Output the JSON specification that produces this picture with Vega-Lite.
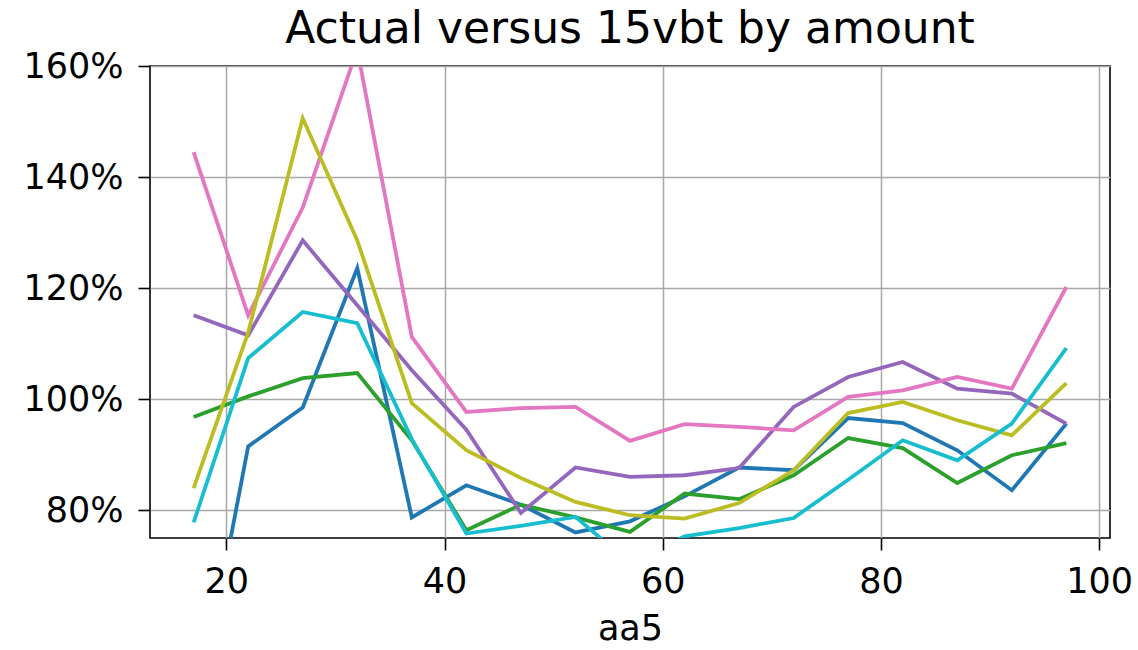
{
  "$schema": "https://vega.github.io/schema/vega-lite/v6.json",
  "width": 960,
  "height": 472,
  "autosize": {"type": "none"},
  "padding": {"left": 150, "top": 66, "right": 28, "bottom": 112},
  "background": "white",
  "title": {
    "text": "Actual versus 15vbt by amount",
    "font": "DejaVu Sans",
    "fontSize": 44,
    "fontWeight": "normal",
    "color": "black",
    "anchor": "middle",
    "frame": "group",
    "baseline": "alphabetic",
    "offset": -38
  },
  "config": {
    "font": "DejaVu Sans",
    "view": {"stroke": "black", "strokeWidth": 1.6},
    "axis": {
      "grid": true,
      "gridColor": "#a8a8a8",
      "gridWidth": 1.5,
      "domain": false,
      "tickColor": "black",
      "tickSize": 12,
      "tickWidth": 1.6,
      "labelFont": "DejaVu Sans",
      "labelFontSize": 35,
      "labelColor": "black",
      "titleFont": "DejaVu Sans",
      "titleFontSize": 35,
      "titleFontWeight": "normal",
      "titleColor": "black"
    }
  },
  "data": {
    "values": [
      {"aa5": 17, "grp": "g0", "ratio": 0.40},
      {"aa5": 22, "grp": "g0", "ratio": 0.915},
      {"aa5": 27, "grp": "g0", "ratio": 0.985},
      {"aa5": 32, "grp": "g0", "ratio": 1.236},
      {"aa5": 37, "grp": "g0", "ratio": 0.787},
      {"aa5": 42, "grp": "g0", "ratio": 0.845},
      {"aa5": 47, "grp": "g0", "ratio": 0.81},
      {"aa5": 52, "grp": "g0", "ratio": 0.76},
      {"aa5": 57, "grp": "g0", "ratio": 0.78},
      {"aa5": 62, "grp": "g0", "ratio": 0.825},
      {"aa5": 67, "grp": "g0", "ratio": 0.877},
      {"aa5": 72, "grp": "g0", "ratio": 0.872},
      {"aa5": 77, "grp": "g0", "ratio": 0.966},
      {"aa5": 82, "grp": "g0", "ratio": 0.957},
      {"aa5": 87, "grp": "g0", "ratio": 0.908},
      {"aa5": 92, "grp": "g0", "ratio": 0.836},
      {"aa5": 97, "grp": "g0", "ratio": 0.956},

      {"aa5": 17, "grp": "g2", "ratio": 0.968},
      {"aa5": 22, "grp": "g2", "ratio": 1.005},
      {"aa5": 27, "grp": "g2", "ratio": 1.038},
      {"aa5": 32, "grp": "g2", "ratio": 1.047},
      {"aa5": 37, "grp": "g2", "ratio": 0.926},
      {"aa5": 42, "grp": "g2", "ratio": 0.764},
      {"aa5": 47, "grp": "g2", "ratio": 0.81},
      {"aa5": 52, "grp": "g2", "ratio": 0.787},
      {"aa5": 57, "grp": "g2", "ratio": 0.761},
      {"aa5": 62, "grp": "g2", "ratio": 0.83},
      {"aa5": 67, "grp": "g2", "ratio": 0.82},
      {"aa5": 72, "grp": "g2", "ratio": 0.863},
      {"aa5": 77, "grp": "g2", "ratio": 0.93},
      {"aa5": 82, "grp": "g2", "ratio": 0.912},
      {"aa5": 87, "grp": "g2", "ratio": 0.849},
      {"aa5": 92, "grp": "g2", "ratio": 0.899},
      {"aa5": 97, "grp": "g2", "ratio": 0.921},

      {"aa5": 17, "grp": "g4", "ratio": 1.151},
      {"aa5": 22, "grp": "g4", "ratio": 1.115},
      {"aa5": 27, "grp": "g4", "ratio": 1.286},
      {"aa5": 32, "grp": "g4", "ratio": 1.169},
      {"aa5": 37, "grp": "g4", "ratio": 1.052},
      {"aa5": 42, "grp": "g4", "ratio": 0.945},
      {"aa5": 47, "grp": "g4", "ratio": 0.795},
      {"aa5": 52, "grp": "g4", "ratio": 0.877},
      {"aa5": 57, "grp": "g4", "ratio": 0.86},
      {"aa5": 62, "grp": "g4", "ratio": 0.863},
      {"aa5": 67, "grp": "g4", "ratio": 0.876},
      {"aa5": 72, "grp": "g4", "ratio": 0.986},
      {"aa5": 77, "grp": "g4", "ratio": 1.04},
      {"aa5": 82, "grp": "g4", "ratio": 1.067},
      {"aa5": 87, "grp": "g4", "ratio": 1.019},
      {"aa5": 92, "grp": "g4", "ratio": 1.01},
      {"aa5": 97, "grp": "g4", "ratio": 0.956},

      {"aa5": 17, "grp": "g6", "ratio": 1.445},
      {"aa5": 22, "grp": "g6", "ratio": 1.151},
      {"aa5": 27, "grp": "g6", "ratio": 1.345},
      {"aa5": 32, "grp": "g6", "ratio": 1.63},
      {"aa5": 37, "grp": "g6", "ratio": 1.112},
      {"aa5": 42, "grp": "g6", "ratio": 0.977},
      {"aa5": 47, "grp": "g6", "ratio": 0.984},
      {"aa5": 52, "grp": "g6", "ratio": 0.986},
      {"aa5": 57, "grp": "g6", "ratio": 0.925},
      {"aa5": 62, "grp": "g6", "ratio": 0.955},
      {"aa5": 67, "grp": "g6", "ratio": 0.95},
      {"aa5": 72, "grp": "g6", "ratio": 0.944},
      {"aa5": 77, "grp": "g6", "ratio": 1.004},
      {"aa5": 82, "grp": "g6", "ratio": 1.016},
      {"aa5": 87, "grp": "g6", "ratio": 1.04},
      {"aa5": 92, "grp": "g6", "ratio": 1.019},
      {"aa5": 97, "grp": "g6", "ratio": 1.202},

      {"aa5": 17, "grp": "g8", "ratio": 0.84},
      {"aa5": 22, "grp": "g8", "ratio": 1.12},
      {"aa5": 27, "grp": "g8", "ratio": 1.506},
      {"aa5": 32, "grp": "g8", "ratio": 1.286},
      {"aa5": 37, "grp": "g8", "ratio": 0.993},
      {"aa5": 42, "grp": "g8", "ratio": 0.908},
      {"aa5": 47, "grp": "g8", "ratio": 0.858},
      {"aa5": 52, "grp": "g8", "ratio": 0.815},
      {"aa5": 57, "grp": "g8", "ratio": 0.791},
      {"aa5": 62, "grp": "g8", "ratio": 0.785},
      {"aa5": 67, "grp": "g8", "ratio": 0.813},
      {"aa5": 72, "grp": "g8", "ratio": 0.872},
      {"aa5": 77, "grp": "g8", "ratio": 0.975},
      {"aa5": 82, "grp": "g8", "ratio": 0.995},
      {"aa5": 87, "grp": "g8", "ratio": 0.962},
      {"aa5": 92, "grp": "g8", "ratio": 0.935},
      {"aa5": 97, "grp": "g8", "ratio": 1.029},

      {"aa5": 17, "grp": "g9", "ratio": 0.778},
      {"aa5": 22, "grp": "g9", "ratio": 1.074},
      {"aa5": 27, "grp": "g9", "ratio": 1.157},
      {"aa5": 32, "grp": "g9", "ratio": 1.137},
      {"aa5": 37, "grp": "g9", "ratio": 0.928},
      {"aa5": 42, "grp": "g9", "ratio": 0.758},
      {"aa5": 47, "grp": "g9", "ratio": 0.772},
      {"aa5": 52, "grp": "g9", "ratio": 0.788},
      {"aa5": 57, "grp": "g9", "ratio": 0.705},
      {"aa5": 62, "grp": "g9", "ratio": 0.753},
      {"aa5": 67, "grp": "g9", "ratio": 0.768},
      {"aa5": 72, "grp": "g9", "ratio": 0.786},
      {"aa5": 77, "grp": "g9", "ratio": 0.855},
      {"aa5": 82, "grp": "g9", "ratio": 0.926},
      {"aa5": 87, "grp": "g9", "ratio": 0.89},
      {"aa5": 92, "grp": "g9", "ratio": 0.956},
      {"aa5": 97, "grp": "g9", "ratio": 1.092}
    ]
  },
  "mark": {"type": "line", "strokeWidth": 3.8, "clip": true},
  "encoding": {
    "x": {
      "field": "aa5",
      "type": "quantitative",
      "scale": {"domain": [13, 101], "nice": false, "zero": false},
      "axis": {"values": [20, 40, 60, 80, 100], "title": "aa5", "labelPadding": 14, "titlePadding": 12}
    },
    "y": {
      "field": "ratio",
      "type": "quantitative",
      "scale": {"domain": [0.75, 1.6], "nice": false, "zero": false},
      "axis": {"values": [0.8, 1.0, 1.2, 1.4, 1.6], "format": ".0%", "title": null, "labelPadding": 15}
    },
    "color": {
      "field": "grp",
      "type": "nominal",
      "scale": {
        "domain": ["g0", "g2", "g4", "g6", "g8", "g9"],
        "range": ["#1f77b4", "#2ca02c", "#9467bd", "#e377c2", "#bcbd22", "#17becf"]
      },
      "legend": null
    }
  }
}
